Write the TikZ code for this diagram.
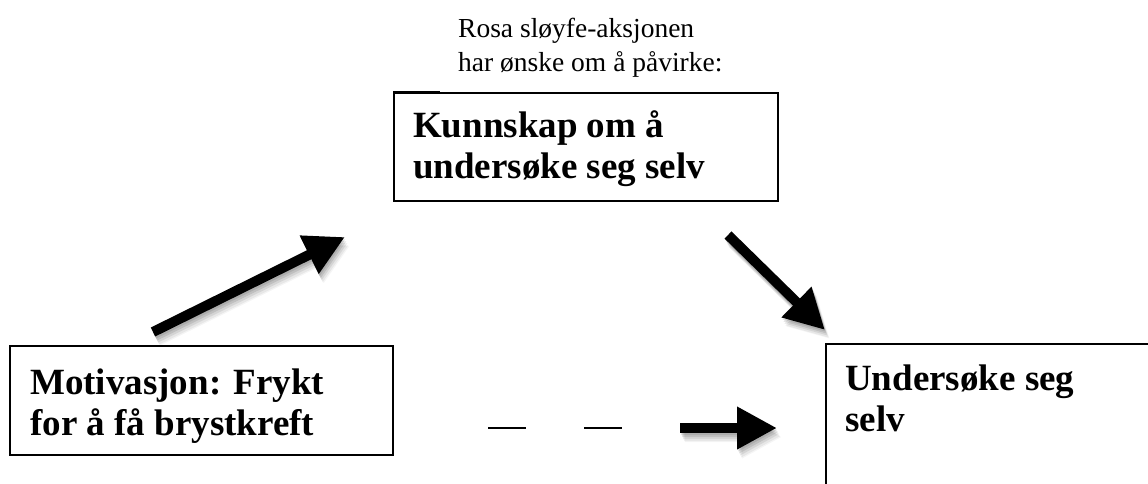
\documentclass[tikz,border=0pt]{standalone}
\usepackage{fontspec}
\setmainfont{Liberation Serif}
\usetikzlibrary{arrows.meta}
\begin{document}
\begin{tikzpicture}[x=1pt,y=-1pt,
  box/.style={draw=black, line width=1.6pt, inner sep=0pt, anchor=north west},
  heading/.style={font=\fontsize{37}{41}\selectfont\bfseries, inner sep=0pt, anchor=base west},
  caption/.style={font=\fontsize{27.5}{34}\selectfont, inner sep=0pt, anchor=base west},
  fatarrow/.style={line width=10pt, -{Triangle[length=40pt,width=40pt]}},
  dashpiece/.style={line width=1.6pt},
]
\useasboundingbox (0,0) rectangle (1148,483);

% caption above the upper box
\node[caption] (capA) at (458,37) {Rosa sløyfe-aksjonen};
\node[caption] (capB) at (458,71) {har ønske om å påvirke:};

% upper box: knowledge
\node[box, minimum width=384pt, minimum height=108pt] (know) at (393,92) {};
\draw[line width=1.2pt] (know.north west) ++(0,-0.7) -- ++(47,0);
\node[heading] (knowA) at (413,137) {Kunnskap om å};
\node[heading] (knowB) at (413,178) {undersøke seg selv};

% lower left box: motivation
\node[box, minimum width=383pt, minimum height=109pt] (motiv) at (9,345) {};
\node[heading] (motivA) at (30,394) {Motivasjon: Frykt};
\node[heading] (motivB) at (30,435) {for å få brystkreft};

% lower right box: self examination (runs past the page edge)
\node[box, minimum width=384pt, minimum height=160pt] (exam) at (825,343) {};
\node[heading] (examA) at (845,390) {Undersøke seg};
\node[heading] (examB) at (845,431) {selv};

% arrow end points
\coordinate (upS) at (153,332);
\coordinate (upE) at (345,237);
\coordinate (downS) at (728,235);
\coordinate (downE) at (825,330);
\coordinate (sideS) at (680,428);
\coordinate (sideE) at (777,428);

% dashed part of the lower link
\coordinate (dashA1) at (488,428);
\coordinate (dashA2) at (526,428);
\coordinate (dashB1) at (584,428);
\coordinate (dashB2) at (622,428);
\draw[dashpiece] (dashA1) -- (dashA2);
\draw[dashpiece] (dashB1) -- (dashB2);

% soft shadows under the arrows
\foreach \dx/\dy/\op in {1/2/0.10, 2/4/0.10, 3/6/0.08, 4/8/0.06, 5/9/0.04}{
  \begin{scope}[transparency group, opacity=\op]
    \draw[fatarrow, black] ([shift={(\dx,\dy)}]upS) -- ([shift={(\dx,\dy)}]upE);
    \draw[fatarrow, black] ([shift={(\dx,\dy)}]downS) -- ([shift={(\dx,\dy)}]downE);
    \draw[fatarrow, black] ([shift={(\dx,\dy)}]sideS) -- ([shift={(\dx,\dy)}]sideE);
  \end{scope}
}

% arrows
\draw[fatarrow] (upS) -- (upE);
\draw[fatarrow] (downS) -- (downE);
\draw[fatarrow] (sideS) -- (sideE);
\end{tikzpicture}
\end{document}
